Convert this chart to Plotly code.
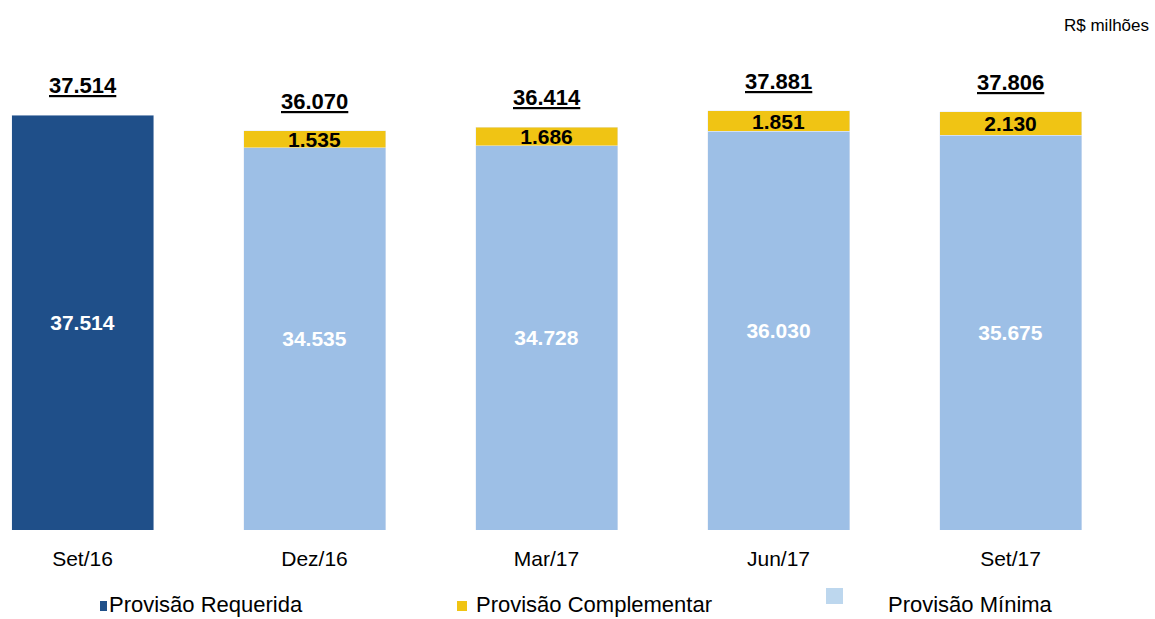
import plotly.graph_objects as go

categories = ["Set/16", "Dez/16", "Mar/17", "Jun/17", "Set/17"]
requerida = [37514, None, None, None, None]
minima = [None, 34535, 34728, 36030, 35675]
complementar = [None, 1535, 1686, 1851, 2130]
totals = [37514, 36070, 36414, 37881, 37806]
req_labels = ["37.514", "", "", "", ""]
min_labels = ["", "34.535", "34.728", "36.030", "35.675"]
comp_labels = ["", "1.535", "1.686", "1.851", "2.130"]
total_labels = ["37.514", "36.070", "36.414", "37.881", "37.806"]
legend_names = ["Provisão Requerida", "Provisão Complementar", "Provisão Mínima"]

C_DARK = "#1F4F89"
C_LIGHT = "#9DBFE6"
C_YEL = "#F0C414"
C_LEG_LIGHT = "#BDD7EE"

W, H = 1155, 619
ML, MR, MT, MB = 0, 0, 40, 89
PH = H - MT - MB

fig = go.Figure()
fig.add_bar(x=categories, y=requerida, name=legend_names[0], marker_color=C_DARK,
            text=req_labels, textposition="inside", insidetextanchor="middle",
            textangle=0, constraintext="none",
            textfont=dict(family="Liberation Sans", size=21, color="white", weight="bold"))
fig.add_bar(x=categories, y=minima, name=legend_names[2], marker_color=C_LIGHT,
            text=min_labels, textposition="inside", insidetextanchor="middle",
            textangle=0, constraintext="none",
            textfont=dict(family="Liberation Sans", size=21, color="white", weight="bold"))
fig.add_bar(x=categories, y=complementar, name=legend_names[1], marker_color=C_YEL,
            text=comp_labels, textposition="inside", insidetextanchor="middle",
            textangle=0, constraintext="none",
            textfont=dict(family="Liberation Sans", size=21, color="black", weight="bold"))

for c, t, lab in zip(categories, totals, total_labels):
    fig.add_annotation(x=c, y=t, text="<b><u>" + lab + "</u></b>", showarrow=False,
                       yanchor="bottom", yshift=15,
                       font=dict(family="Liberation Sans", size=22, color="black"))

def px_x(p):
    return (p - ML) / (W - ML - MR)

def px_y(p):
    return (H - MB - p) / PH

# custom legend
leg = [
    (legend_names[0], C_DARK, 100, 107, 601, 611, 108),
    (legend_names[1], C_YEL, 457, 467, 601, 611, 475),
    (legend_names[2], C_LEG_LIGHT, 826, 843, 588, 604, 887),
]
for name, col, x0, x1, y0, y1, tx in leg:
    fig.add_shape(type="rect", xref="paper", yref="paper",
                  x0=px_x(x0), x1=px_x(x1), y0=px_y(y1), y1=px_y(y0),
                  fillcolor=col, line_width=0)
    fig.add_annotation(xref="paper", yref="paper", x=px_x(tx), y=px_y(604),
                       xanchor="left", yanchor="middle", text=name, showarrow=False,
                       borderpad=0,
                       font=dict(family="Liberation Sans", size=22, color="black"))

fig.add_annotation(xref="paper", yref="paper", x=px_x(1151), y=px_y(25),
                   xanchor="right", yanchor="middle", text="R$ milhões", showarrow=False,
                   font=dict(family="Liberation Sans", size=17, color="black"))

fig.update_layout(
    barmode="stack", bargap=1 - 142 / 232,
    width=W, height=H,
    margin=dict(l=ML, r=MR, t=MT, b=MB),
    paper_bgcolor="white", plot_bgcolor="white",
    showlegend=False,
    xaxis=dict(type="category", range=[-82.5 / 232, -82.5 / 232 + W / 232],
               showgrid=False, zeroline=False, showline=False, ticks="",
               ticklabelstandoff=14,
               tickfont=dict(family="Liberation Sans", size=21, color="black")),
    yaxis=dict(range=[0, PH / (415 / 37514)], visible=False, showgrid=False),
    font=dict(family="Liberation Sans"),
)

fig.write_html("out.html", config={"displayModeBar": False},
               post_script="document.body.style.margin='0';document.body.style.overflow='hidden';")
